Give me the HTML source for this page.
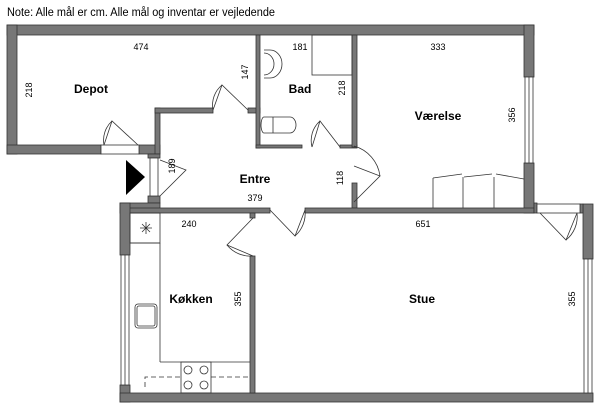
<!DOCTYPE html>
<html><head><meta charset="utf-8"><style>body{margin:0;background:#fff}svg{display:block}</style></head><body>
<svg width="600" height="408" viewBox="0 0 600 408" xmlns="http://www.w3.org/2000/svg" font-family="Liberation Sans, sans-serif">
<text x="7" y="16" font-size="11.5" textLength="268" lengthAdjust="spacingAndGlyphs">Note: Alle mål er cm. Alle mål og inventar er vejledende</text>
<g fill="#777" stroke="#333" stroke-width="0.8">
<!-- top wall -->
<rect x="7" y="25" width="527" height="10"/>
<!-- left depot wall -->
<rect x="7" y="25" width="10" height="129"/>
<!-- depot bottom -->
<rect x="7" y="145" width="94" height="9"/>
<rect x="139" y="145" width="21" height="9"/>
<!-- vertical depot/entre -->
<rect x="155" y="108" width="5" height="46"/>
<rect x="155" y="108" width="58" height="5"/>
<rect x="248" y="108" width="12" height="5"/>
<!-- bad walls -->
<rect x="256" y="35" width="4" height="113"/>
<rect x="256" y="145" width="46" height="3"/>
<rect x="340" y="145" width="17" height="3"/>
<rect x="352" y="35" width="5" height="112"/>
<rect x="352" y="183" width="5" height="25"/>
<!-- værelse right -->
<rect x="524" y="25" width="10" height="52"/>
<rect x="524" y="163" width="10" height="50"/>
<!-- entre/stue wall -->
<rect x="305" y="208" width="229" height="5"/>
<rect x="534" y="203" width="3" height="10"/>
<!-- entrance region -->
<rect x="148" y="154" width="12" height="4"/>
<rect x="148" y="196" width="12" height="7"/>
<!-- kitchen top -->
<rect x="120" y="203" width="40" height="10"/>
<rect x="120" y="208" width="150" height="5"/>
<!-- kitchen left wall -->
<rect x="120" y="203" width="10" height="52"/>
<rect x="120" y="385" width="10" height="17"/>
<!-- bottom -->
<rect x="120" y="393" width="473" height="9"/>
<!-- kitchen/stue wall -->
<rect x="250" y="256" width="5" height="137"/>
<rect x="250" y="213" width="5" height="5"/>
<!-- stue right -->
<rect x="583" y="204" width="10" height="55"/>
<rect x="580" y="204" width="3" height="9"/>
</g>
<g fill="#fff" stroke="#333" stroke-width="0.8">
<!-- windows -->
<rect x="525" y="77" width="8" height="86"/><line x1="529" y1="77" x2="529" y2="163"/>
<rect x="121" y="255" width="8" height="130"/><line x1="125" y1="255" x2="125" y2="385"/>
<rect x="584" y="259" width="8" height="134"/><line x1="588" y1="259" x2="588" y2="393"/>
<rect x="150" y="158" width="8" height="38"/>
<rect x="101" y="145" width="38" height="9"/>
<rect x="537" y="204" width="43" height="9"/>
</g>
<g fill="none" stroke="#333" stroke-width="0.8">
<!-- doors -->
<path d="M104 145 L112 121 L138 145"/><path d="M104 145 A26 26 0 0 1 112 121"/>
<path d="M213 110 L222 85 L248 110"/><path d="M213 110 A26 26 0 0 1 222 85"/>
<path d="M312 147 L320 121 L340 147"/><path d="M312 147 A26 26 0 0 1 320 121"/>
<path d="M354 166 L380 176 L354 202"/><path d="M354 146 A36 36 0 0 1 380 176"/>
<path d="M160 160 L186 170 L160 196"/>
<path d="M270 210 L295 236 L305 210"/><path d="M295 236 A30 30 0 0 0 305 210"/>
<path d="M253 218 L227 245 L253 256"/><path d="M227 245 A30 30 0 0 0 253 256"/>
<path d="M540 213 L566 240 L577 213"/><path d="M566 240 A30 30 0 0 0 577 213"/>
<!-- wardrobe -->
<path d="M433 178 L433 208 M463 177 L463 208 M494 177 L494 208 M524 178"/>
<path d="M433 178 L462 174 M464 177 L492 174 M496 174 L524 179"/>
<!-- bath fixtures -->
<rect x="312" y="35" width="40" height="40"/>
<path d="M264 50 L270 50 A12 14 0 0 1 270 78 L264 78"/><path d="M264 53 A10 11 0 0 1 264 75"/>
<path d="M264 117 L290 117 A6 8 0 0 1 290 133 L264 133 A3 8 0 0 1 264 117 M273 117 L273 133"/>
<!-- kitchen -->
<rect x="130" y="213" width="30" height="30"/>
<line x1="160" y1="243" x2="160" y2="362"/>
<line x1="130" y1="243" x2="160" y2="243"/>
<line x1="160" y1="362" x2="250" y2="362"/>
<rect x="135" y="304" width="22" height="24" rx="3"/><rect x="137" y="306" width="18" height="20" rx="2"/>
<rect x="181" y="362" width="30" height="31"/>
<circle cx="188" cy="370" r="4"/><circle cx="204" cy="370" r="4"/><circle cx="188" cy="385" r="4"/><circle cx="204" cy="385" r="4"/>
<path d="M145 387 L145 377 L181 377 M211 377 L250 377" stroke-dasharray="5 3"/>
<path d="M140 228 L152 228 M146 222 L146 234 M142 224 L150 232 M150 224 L142 232"/>
</g>
<polygon points="126,160 145,177 126,195" fill="#000"/>
<g font-weight="bold" font-size="12" text-anchor="middle">
<text x="91" y="93">Depot</text><text x="300" y="93">Bad</text><text x="438" y="120">Værelse</text>
<text x="255" y="183">Entre</text><text x="191" y="303">Køkken</text><text x="422" y="303">Stue</text>
</g>
<g font-size="9" text-anchor="middle">
<text x="141" y="50">474</text><text x="300" y="50">181</text><text x="438" y="50">333</text>
<text x="255" y="201">379</text><text x="189" y="227">240</text><text x="423" y="227">651</text>
<text transform="translate(32,90) rotate(-90)">218</text>
<text transform="translate(248,72) rotate(-90)">147</text>
<text transform="translate(345,88) rotate(-90)">218</text>
<text transform="translate(515,115) rotate(-90)">356</text>
<text transform="translate(175,166) rotate(-90)">189</text>
<text transform="translate(343,178) rotate(-90)">118</text>
<text transform="translate(241,299) rotate(-90)">355</text>
<text transform="translate(575,299) rotate(-90)">355</text>
</g>
</svg>
</body></html>
